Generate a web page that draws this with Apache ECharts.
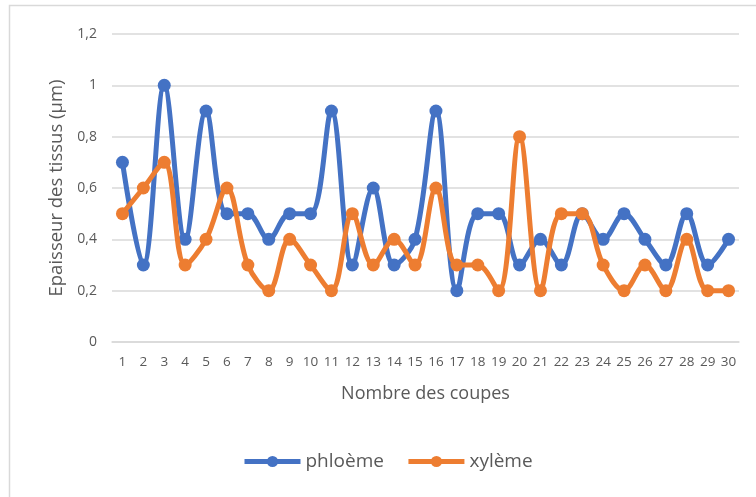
<!DOCTYPE html>
<html>
<head>
<meta charset="utf-8">
<script src="https://cdn.jsdelivr.net/npm/echarts@6/dist/echarts.min.js"></script>
<style>
  html, body { margin: 0; padding: 0; background: #fff; }
  #chart { width: 756px; height: 497px; }
</style>
</head>
<body>
<div id="chart"></div>
<script>
// données
const coupes = Array.from({ length: 30 }, (_, i) => String(i + 1))
const phloeme = [0.7, 0.3, 1, 0.4, 0.9, 0.5, 0.5, 0.4, 0.5, 0.5, 0.9, 0.3, 0.6, 0.3, 0.4, 0.9, 0.2, 0.5, 0.5, 0.3, 0.4, 0.3, 0.5, 0.4, 0.5, 0.4, 0.3, 0.5, 0.3, 0.4]
const xyleme = [0.5, 0.6, 0.7, 0.3, 0.4, 0.6, 0.3, 0.2, 0.4, 0.3, 0.2, 0.5, 0.3, 0.4, 0.3, 0.6, 0.3, 0.3, 0.2, 0.8, 0.2, 0.5, 0.5, 0.3, 0.2, 0.3, 0.2, 0.4, 0.2, 0.2]

const textColor = '#595959'
const font = '"Open Sans", sans-serif'

const chart = echarts.init(document.getElementById('chart'))

const lineSerie = (name, data, color) => ({
  name,
  type: 'line',
  data,
  smooth: 0.35,
  symbol: 'circle',
  symbolSize: 13,
  lineStyle: { width: 5, color },
  itemStyle: { color },
  z: name === 'xylème' ? 3 : 2
})

chart.setOption({
  animation: false,
  textStyle: { fontFamily: font, color: textColor },
  graphic: [{
    type: 'rect',
    shape: { x: 9.5, y: 5.5, width: 760, height: 500 },
    style: { fill: 'none', stroke: '#d9d9d9', lineWidth: 1.5 }
  }],
  grid: { left: 112, right: 17, top: 34, bottom: 155 },
  legend: {
    bottom: 21,
    left: 237,
    itemWidth: 56,
    itemHeight: 14,
    itemGap: 22,
    lineStyle: { width: 5 },
    textStyle: { fontSize: 19, color: textColor, fontFamily: font },
    data: ['phloème', 'xylème']
  },
  xAxis: {
    type: 'category',
    data: coupes,
    boundaryGap: true,
    name: 'Nombre des coupes',
    nameLocation: 'middle',
    nameGap: 43,
    nameTextStyle: { fontSize: 18, color: textColor, fontFamily: font },
    axisLine: { lineStyle: { color: '#d9d9d9', width: 1.5 } },
    axisTick: { show: false },
    axisLabel: { fontSize: 13.5, color: textColor, margin: 13, interval: 0, fontFamily: font }
  },
  yAxis: {
    type: 'value',
    min: 0,
    max: 1.2,
    interval: 0.2,
    name: 'Epaisseur des tissus (µm)',
    nameLocation: 'middle',
    nameGap: 46,
    nameTextStyle: { fontSize: 18.5, color: textColor, fontFamily: font },
    axisLine: { show: false },
    axisTick: { show: false },
    axisLabel: {
      fontSize: 14,
      color: textColor,
      margin: 15,
      fontFamily: font,
      formatter: v => String(Math.round(v * 10) / 10).replace('.', ',')
    },
    splitLine: { lineStyle: { color: '#d9d9d9', width: 1.5 } }
  },
  series: [
    lineSerie('phloème', phloeme, '#4472C4'),
    lineSerie('xylème', xyleme, '#ED7D31')
  ]
})
</script>
</body>
</html>
